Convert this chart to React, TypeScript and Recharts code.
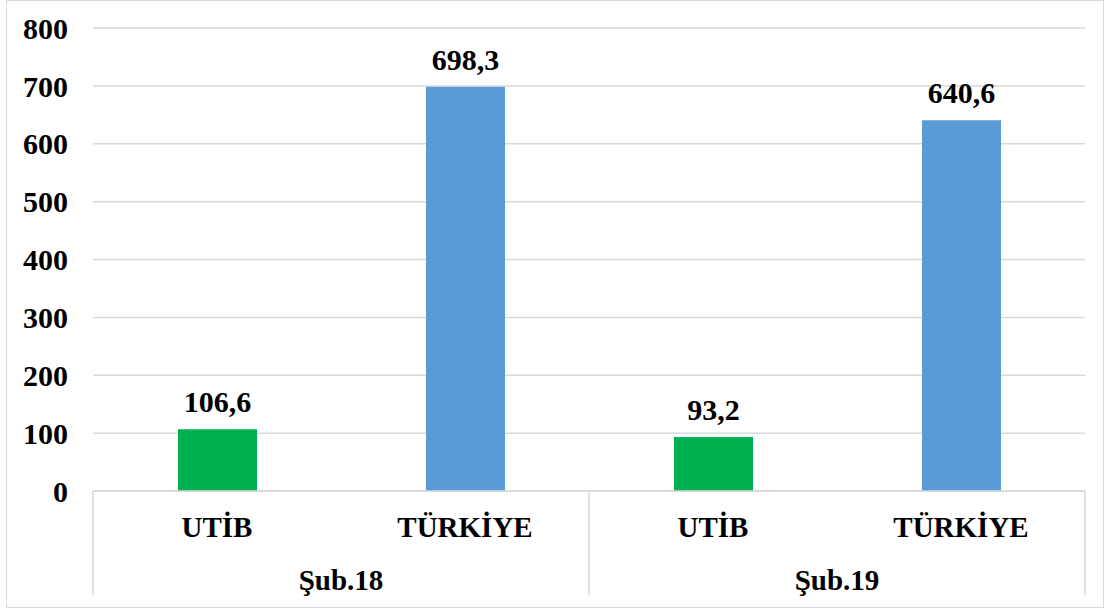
import { Bar, BarChart, CartesianGrid, Cell, LabelList, XAxis, YAxis } from 'recharts'

const categories = ['UTİB', 'TÜRKİYE', 'UTİB', 'TÜRKİYE']
const groups = ['Şub.18', 'Şub.18', 'Şub.19', 'Şub.19']
const values = [106.6, 698.3, 93.2, 640.6]
const barColors = ['#00B050', '#5B9BD5', '#00B050', '#5B9BD5']
const yTicks = [0, 100, 200, 300, 400, 500, 600, 700, 800]

const data = categories.map((name, i) => ({ name, group: groups[i], value: values[i] }))

const FONT = '"Liberation Serif", "Times New Roman", serif'
const GRID = '#d9d9d9'
const CAT_AXIS_HEIGHT = 55
const GROUP_AXIS_HEIGHT = 62

function GroupTick(props: any) {
  const { x, y, payload, index, visibleTicksCount } = props
  const half = payload?.offset ?? 248
  const top = y - CAT_AXIS_HEIGHT
  const bottom = y + 49
  return (
    <g>
      <line x1={x - half} x2={x - half} y1={top} y2={bottom} stroke={GRID} strokeWidth={1.5} />
      {index === visibleTicksCount - 1 && (
        <line x1={x + half} x2={x + half} y1={top} y2={bottom} stroke={GRID} strokeWidth={1.5} />
      )}
      <text x={x} y={y + 44} textAnchor="middle" fontFamily={FONT} fontWeight="bold" fontSize={29} fill="#000">
        {payload.value}
      </text>
    </g>
  )
}

export default function App() {
  return (
    <div style={{ position: 'absolute', left: 0, top: 0, width: 1105, height: 608, background: '#fff' }}>
      <div
        style={{
          position: 'absolute',
          left: 6,
          top: 0,
          width: 1098,
          height: 608,
          border: `1.5px solid ${GRID}`,
          boxSizing: 'border-box',
        }}
      />
      <div style={{ position: 'absolute', left: 0, top: 0 }}>
        <BarChart
          width={1105}
          height={608}
          data={data}
          margin={{ top: 28, right: 20, left: 0, bottom: 0 }}
          barSize={79}
        >
          <CartesianGrid vertical={false} stroke={GRID} strokeWidth={1.5} />
          <YAxis
            domain={[0, 800]}
            ticks={yTicks}
            width={93}
            axisLine={false}
            tickLine={false}
            tickSize={0}
            tickMargin={25}
            tick={{ fontFamily: FONT, fontWeight: 'bold', fontSize: 30, fill: '#000' }}
          />
          <XAxis
            dataKey="name"
            xAxisId={0}
            height={CAT_AXIS_HEIGHT}
            tickLine={false}
            tickSize={0}
            tickMargin={25}
            axisLine={{ stroke: GRID, strokeWidth: 1.5 }}
            interval={0}
            tick={{ fontFamily: FONT, fontWeight: 'bold', fontSize: 29, fill: '#000' }}
          />
          <XAxis
            dataKey="group"
            xAxisId="group"
            allowDuplicatedCategory={false}
            height={GROUP_AXIS_HEIGHT}
            axisLine={false}
            tickLine={false}
            tickSize={0}
            tickMargin={0}
            interval={0}
            tick={<GroupTick />}
          />
          <Bar dataKey="value" xAxisId={0} isAnimationActive={false}>
            {data.map((d, i) => (
              <Cell key={`c-${d.group}-${i}`} fill={barColors[i]} />
            ))}
            <LabelList
              dataKey="value"
              position="top"
              offset={17}
              formatter={(v: any) => String(v).replace('.', ',')}
              style={{ fontFamily: FONT, fontWeight: 'bold', fontSize: 30, fill: '#000' }}
            />
          </Bar>
        </BarChart>
      </div>
    </div>
  )
}
